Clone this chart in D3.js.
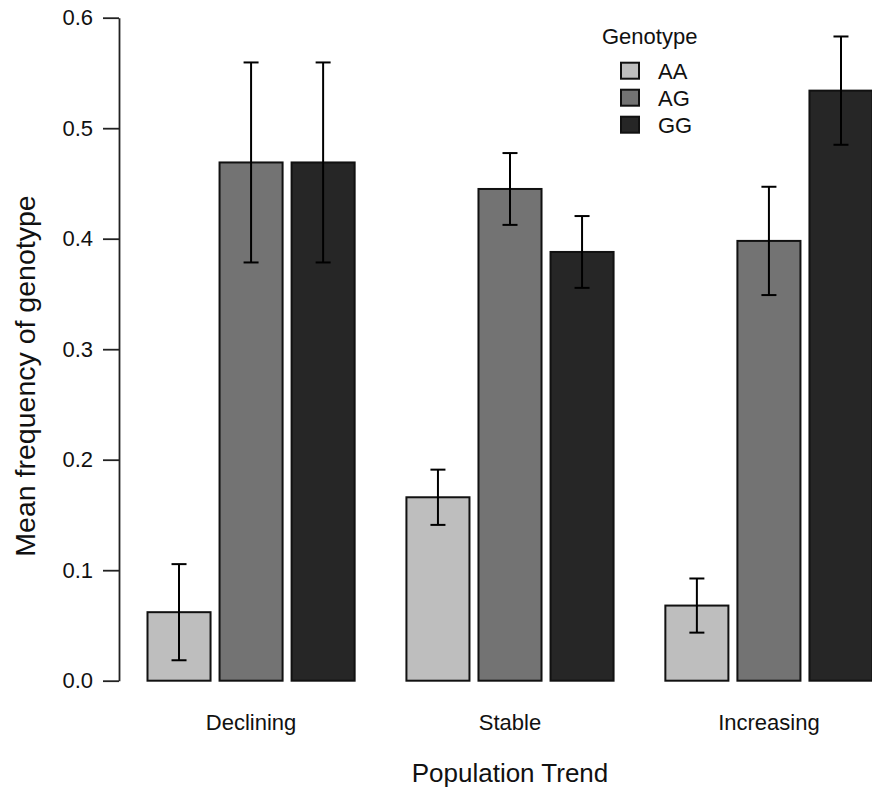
<!DOCTYPE html>
<html>
<head>
<meta charset="utf-8">
<script src="https://cdn.jsdelivr.net/npm/d3@7"></script>
<style>
  html, body { margin: 0; padding: 0; background: #fff; }
  svg { display: block; font-family: "Liberation Sans", Arial, sans-serif; }
</style>
</head>
<body>
<svg id="chart" width="872" height="789"></svg>
<script>
// Population trend groups and genotype series
const trends = ["Declining", "Stable", "Increasing"];
const genotypes = ["AA", "AG", "GG"];

// Mean genotype frequency per trend
const meanAA = [0.062, 0.166, 0.068];
const meanAG = [0.469, 0.445, 0.398];
const meanGG = [0.469, 0.388, 0.534];

// Error half-widths
const errAA = [0.0435, 0.025, 0.0245];
const errAG = [0.0905, 0.0325, 0.049];
const errGG = [0.0905, 0.0325, 0.049];

const yTicks = [0, 0.1, 0.2, 0.3, 0.4, 0.5, 0.6];
const fills = ["#bebebe", "#737373", "#262626"];

const means = { AA: meanAA, AG: meanAG, GG: meanGG };
const errs = { AA: errAA, AG: errAG, GG: errGG };

const rows = [];
trends.forEach((t, i) => {
  genotypes.forEach(g => {
    rows.push({ trend: t, genotype: g, value: means[g][i], err: errs[g][i] });
  });
});

const svg = d3.select("#chart");

const y = d3.scaleLinear().domain([0, 0.6]).range([680.7, 17.7]);
const x0 = d3.scaleBand().domain(trends).range([147.5, 872.5]).paddingInner(0.2).paddingOuter(0);
const x1 = d3.scaleBand().domain(genotypes).range([0, x0.bandwidth()]).paddingInner(0.125).paddingOuter(0);
const color = d3.scaleOrdinal().domain(genotypes).range(fills);

// Y axis
const yAxis = d3.axisLeft(y)
  .tickValues(yTicks)
  .tickFormat(d3.format(".1f"))
  .tickSize(16)
  .tickPadding(10)
  .tickSizeOuter(0);

const gy = svg.append("g")
  .attr("transform", "translate(119,0)")
  .call(yAxis);
gy.select(".domain").attr("stroke", "#222").attr("stroke-width", 1.8);
gy.selectAll(".tick line").attr("stroke", "#222").attr("stroke-width", 1.8);
gy.selectAll(".tick text")
  .attr("fill", "#111")
  .style("font-size", "22px")
  .style("font-family", "'Liberation Sans', Arial, sans-serif");

// Bars
const bars = svg.append("g");
bars.selectAll("rect")
  .data(rows)
  .join("rect")
  .attr("x", d => x0(d.trend) + x1(d.genotype))
  .attr("width", x1.bandwidth())
  .attr("y", d => y(d.value))
  .attr("height", d => y(0) - y(d.value))
  .attr("fill", d => color(d.genotype))
  .attr("stroke", "#111")
  .attr("stroke-width", 2);

// Error bars
const capHalf = 7.5;
const eb = svg.append("g").attr("stroke", "#000").attr("stroke-width", 2);
rows.forEach(d => {
  const cx = x0(d.trend) + x1(d.genotype) + x1.bandwidth() / 2;
  const top = y(d.value + d.err), bot = y(d.value - d.err);
  eb.append("line").attr("x1", cx).attr("x2", cx).attr("y1", top).attr("y2", bot);
  eb.append("line").attr("x1", cx - capHalf).attr("x2", cx + capHalf).attr("y1", top).attr("y2", top);
  eb.append("line").attr("x1", cx - capHalf).attr("x2", cx + capHalf).attr("y1", bot).attr("y2", bot);
});

// Category labels
svg.append("g").selectAll("text")
  .data(trends)
  .join("text")
  .attr("x", d => x0(d) + x0.bandwidth() / 2)
  .attr("y", 730)
  .attr("text-anchor", "middle")
  .attr("fill", "#111")
  .style("font-size", "22px")
  .text(d => d);

// Axis titles
svg.append("text")
  .attr("x", x0("Stable") + x0.bandwidth() / 2)
  .attr("y", 782)
  .attr("text-anchor", "middle")
  .attr("fill", "#111")
  .style("font-size", "26px")
  .text("Population Trend");

svg.append("text")
  .attr("transform", "translate(35,376) rotate(-90)")
  .attr("text-anchor", "middle")
  .attr("fill", "#111")
  .style("font-size", "28.5px")
  .text("Mean frequency of genotype");

// Legend
const legend = svg.append("g");
legend.append("text")
  .attr("x", 602)
  .attr("y", 44)
  .attr("fill", "#111")
  .style("font-size", "22px")
  .text("Genotype");
const items = legend.selectAll("g.item")
  .data(genotypes)
  .join("g")
  .attr("class", "item")
  .attr("transform", (d, i) => `translate(0,${70.7 + i * 27})`);
items.append("rect")
  .attr("x", 621).attr("y", -8)
  .attr("width", 18).attr("height", 16)
  .attr("fill", d => color(d))
  .attr("stroke", "#111")
  .attr("stroke-width", 2);
items.append("text")
  .attr("x", 658)
  .attr("y", 8)
  .attr("fill", "#111")
  .style("font-size", "22px")
  .text(d => d);
</script>
</body>
</html>
